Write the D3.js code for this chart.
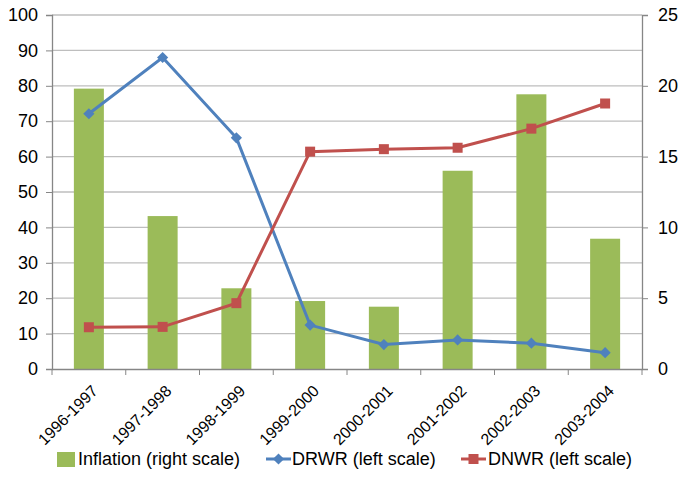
<!DOCTYPE html>
<html>
<head>
<meta charset="utf-8">
<script src="https://cdn.jsdelivr.net/npm/d3@7"></script>
<style>
  html, body { margin: 0; padding: 0; background: #fff; }
  svg { display: block; font-family: "Liberation Sans", Arial, sans-serif; }
</style>
</head>
<body>
<svg id="chart" width="681" height="496"></svg>
<script>
// Periods on the x axis
const periods = ["1996-1997", "1997-1998", "1998-1999", "1999-2000",
                 "2000-2001", "2001-2002", "2002-2003", "2003-2004"];
// Inflation, plotted against the right scale
const inflation = [19.8, 10.8, 5.7, 4.8, 4.4, 14.0, 19.4, 9.2];
// DRWR and DNWR, plotted against the left scale
const drwr = [72.1, 88.0, 65.3, 12.4, 6.9, 8.2, 7.3, 4.6];
const dnwr = [11.8, 11.9, 18.6, 61.4, 62.1, 62.5, 67.9, 75.0];
// Tick values for each vertical axis
const leftTicks = [0, 10, 20, 30, 40, 50, 60, 70, 80, 90, 100];
const rightTicks = [0, 5, 10, 15, 20, 25];
const legendLabels = ["Inflation (right scale)", "DRWR (left scale)", "DNWR (left scale)"];

const colors = { bar: "#9BBB59", drwr: "#4F81BD", dnwr: "#C0504D" };
const fs = 18;      // axis values and legend
const fsCat = 16;   // rotated category labels

const svg = d3.select("#chart");
const m = { left: 52, right: 642, top: 15, bottom: 369 };

const x = d3.scaleBand().domain(periods).range([m.left, m.right]).paddingInner(0).paddingOuter(0);
const yL = d3.scaleLinear().domain([0, 100]).range([m.bottom, m.top]);
const yR = d3.scaleLinear().domain([0, 25]).range([m.bottom, m.top]);

// Horizontal gridlines
svg.append("g").selectAll("line").data(leftTicks.slice(1)).join("line")
  .attr("x1", m.left).attr("x2", m.right)
  .attr("y1", d => yL(d)).attr("y2", d => yL(d))
  .attr("stroke", "#bebebe").attr("stroke-width", 1.3);

// Inflation bars
const barW = 30;
svg.append("g").selectAll("rect").data(inflation).join("rect")
  .attr("x", (d, i) => x(periods[i]) + x.bandwidth() / 2 - barW / 2)
  .attr("width", barW)
  .attr("y", d => yR(d))
  .attr("height", d => m.bottom - yR(d))
  .attr("fill", colors.bar);

// Left axis
const leftAxis = svg.append("g").attr("transform", `translate(${m.left},0)`)
  .call(d3.axisLeft(yL).tickValues(leftTicks).tickSize(6).tickPadding(8));
// Right axis
const rightAxis = svg.append("g").attr("transform", `translate(${m.right},0)`)
  .call(d3.axisRight(yR).tickValues(rightTicks).tickSize(6).tickPadding(10));
// Bottom axis: ticks on band boundaries
const bottomAxis = svg.append("g").attr("transform", `translate(0,${m.bottom})`)
  .call(d3.axisBottom(x).tickSize(0).tickPadding(0));
bottomAxis.selectAll(".tick text").remove();
const boundaries = periods.map(p => x(p)).concat([m.right]);
bottomAxis.selectAll(".bnd").data(boundaries).join("line").attr("class", "bnd")
  .attr("x1", d => d).attr("x2", d => d).attr("y1", 0).attr("y2", 6)
  .attr("stroke", "#868686");

[leftAxis, rightAxis, bottomAxis].forEach(g => {
  g.select(".domain").attr("stroke", "#868686").attr("stroke-width", 1.3);
  g.selectAll(".tick line").attr("stroke", "#868686");
  g.selectAll(".tick text").attr("font-size", fs).attr("fill", "#000")
    .attr("font-family", "Liberation Sans, Arial, sans-serif");
});

// Rotated category labels
svg.append("g").selectAll("text").data(periods).join("text")
  .attr("transform", d => `translate(${x(d) + x.bandwidth() / 2 + 2},${m.bottom + 15}) rotate(-45)`)
  .attr("text-anchor", "end")
  .attr("dy", "0.7em")
  .attr("font-size", fsCat)
  .attr("fill", "#000")
  .text(d => d);

// Lines
const cx = i => x(periods[i]) + x.bandwidth() / 2;
const lineL = d3.line().x((d, i) => cx(i)).y(d => yL(d));

svg.append("path").datum(drwr).attr("d", lineL)
  .attr("fill", "none").attr("stroke", colors.drwr).attr("stroke-width", 3);
svg.append("path").datum(dnwr).attr("d", lineL)
  .attr("fill", "none").attr("stroke", colors.dnwr).attr("stroke-width", 3);

// DRWR markers (diamonds)
const diamond = d3.symbol().type(d3.symbolDiamond2).size(80);
svg.append("g").selectAll("path").data(drwr).join("path")
  .attr("transform", (d, i) => `translate(${cx(i)},${yL(d)})`)
  .attr("d", diamond).attr("fill", colors.drwr);
// DNWR markers (squares)
svg.append("g").selectAll("rect").data(dnwr).join("rect")
  .attr("x", (d, i) => cx(i) - 5).attr("y", d => yL(d) - 5)
  .attr("width", 10).attr("height", 10).attr("fill", colors.dnwr);

// Legend
const ly = 459;
const leg = svg.append("g");
leg.append("rect").attr("x", 57).attr("y", ly - 7).attr("width", 18).attr("height", 15).attr("fill", colors.bar);
leg.append("text").attr("x", 78).attr("y", ly).attr("dy", "0.35em").attr("font-size", fs).text(legendLabels[0]);

leg.append("line").attr("x1", 266).attr("x2", 291).attr("y1", ly).attr("y2", ly)
  .attr("stroke", colors.drwr).attr("stroke-width", 3);
leg.append("path").attr("transform", `translate(278.5,${ly})`).attr("d", diamond).attr("fill", colors.drwr);
leg.append("text").attr("x", 292).attr("y", ly).attr("dy", "0.35em").attr("font-size", fs).text(legendLabels[1]);

leg.append("line").attr("x1", 461).attr("x2", 486).attr("y1", ly).attr("y2", ly)
  .attr("stroke", colors.dnwr).attr("stroke-width", 3);
leg.append("rect").attr("x", 468.5).attr("y", ly - 5).attr("width", 10).attr("height", 10).attr("fill", colors.dnwr);
leg.append("text").attr("x", 488).attr("y", ly).attr("dy", "0.35em").attr("font-size", fs).text(legendLabels[2]);
</script>
</body>
</html>
